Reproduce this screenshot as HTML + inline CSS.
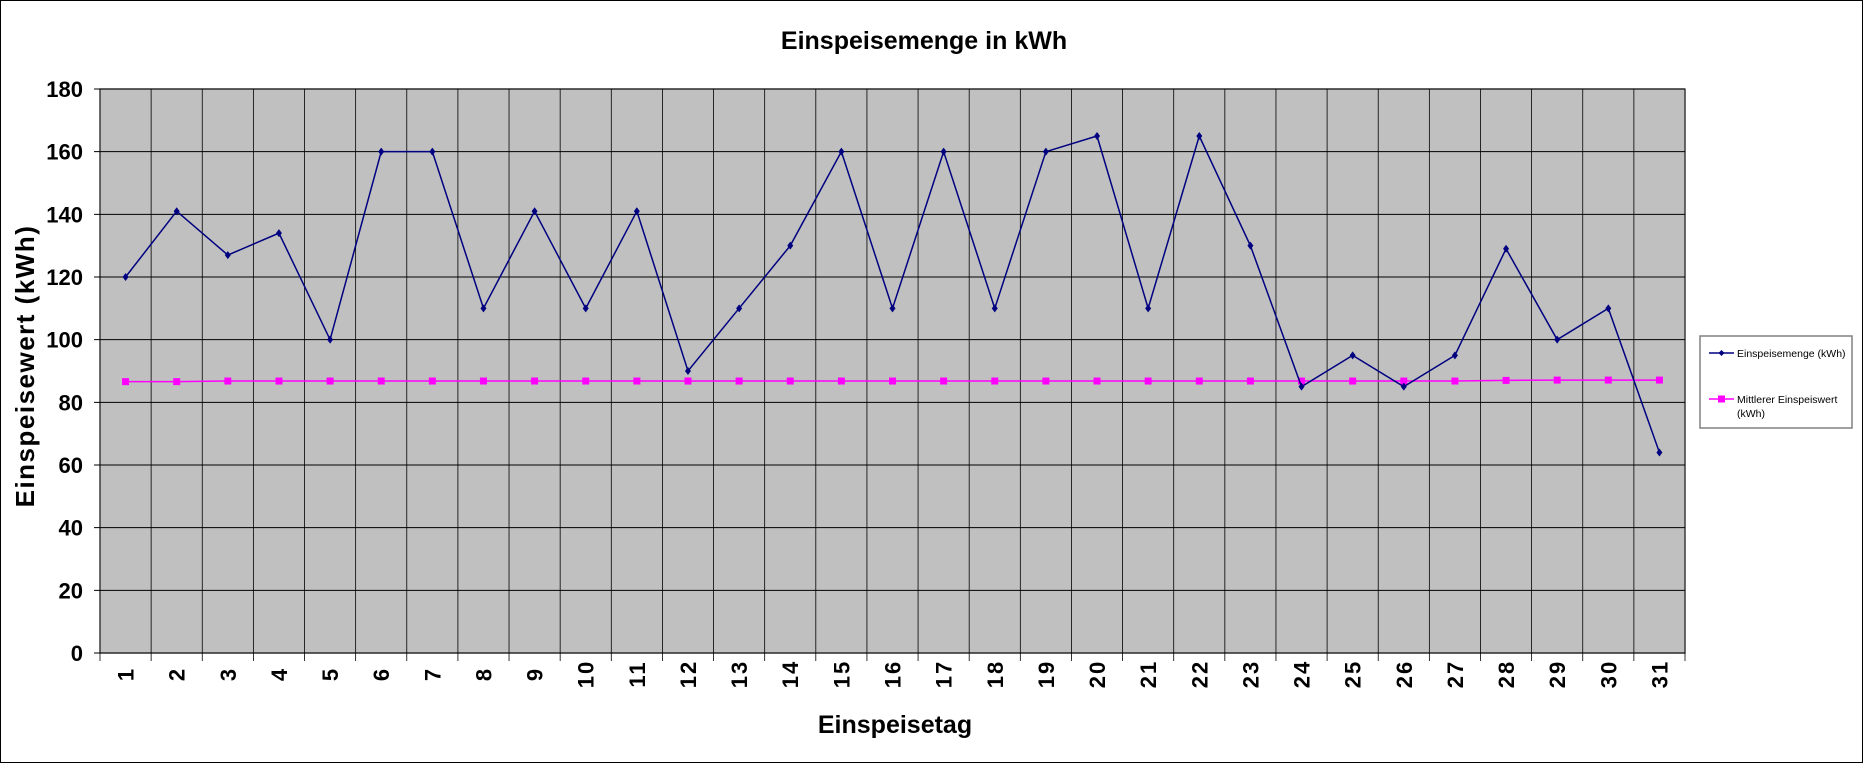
<!DOCTYPE html>
<html><head><meta charset="utf-8"><style>
body{margin:0;background:#fff;font-family:"Liberation Sans",Arial,sans-serif}
svg{display:block}
</style></head><body>
<svg id="chart" width="1863" height="763" xmlns="http://www.w3.org/2000/svg">
<rect x="0.5" y="0.5" width="1862" height="762" fill="#fff" stroke="#000"/>
<text x="924" y="49" text-anchor="middle" font-size="25" font-weight="bold">Einspeisemenge in kWh</text>
<g id="plot"></g>
<text transform="translate(34,366) rotate(-90)" text-anchor="middle" font-size="26" font-weight="bold" letter-spacing="1.5">Einspeisewert  (kWh)</text>
<text x="895" y="733" text-anchor="middle" font-size="25" font-weight="bold">Einspeisetag</text>
<g>
<rect x="1700" y="336" width="152" height="92" fill="#fff" stroke="#808080" stroke-width="1.5"/>
<g>
<line x1="1709" y1="353" x2="1734" y2="353" stroke="#000080" stroke-width="1.5"/>
<polygon points="1721.5,350 1724.5,353 1721.5,356 1718.5,353" fill="#000080"/>
<text x="1737" y="357" font-size="10.5">Einspeisemenge (kWh)</text></g>
<g>
<line x1="1709" y1="399" x2="1734" y2="399" stroke="#ff00ff" stroke-width="1.5"/>
<rect x="1718" y="395.5" width="7" height="7" fill="#ff00ff"/>
<text x="1737" y="403" font-size="10.5">Mittlerer Einspeiswert</text>
<text x="1737" y="417" font-size="10.5">(kWh)</text></g>
</g>
</svg>
<script>
const days=[1,2,3,4,5,6,7,8,9,10,11,12,13,14,15,16,17,18,19,20,21,22,23,24,25,26,27,28,29,30,31];
const einspeisemenge=[120,141,127,134,100,160,160,110,141,110,141,90,110,130,160,110,160,110,160,165,110,165,130,85,95,85,95,129,100,110,64];
const mittlerer=[86.6,86.6,86.8,86.8,86.8,86.8,86.8,86.8,86.8,86.8,86.8,86.8,86.8,86.8,86.8,86.8,86.8,86.8,86.8,86.8,86.8,86.8,86.8,86.8,86.8,86.8,86.8,87,87.1,87.1,87.1];
const yTicks=[0,20,40,60,80,100,120,140,160,180];
const L=100,R=1685,T=89,B=653,yMax=180;
const NS="http://www.w3.org/2000/svg";
const g=document.getElementById('plot');
const bw=(R-L)/days.length;
const xc=i=>L+(i+0.5)*bw;
const ys=v=>B-(v/yMax)*(B-T);
function mk(t,a,p){const e=document.createElementNS(NS,t);for(const k in a)e.setAttribute(k,a[k]);(p||g).appendChild(e);return e;}
const bg=mk('rect',{x:L,y:T,width:R-L,height:B-T,fill:'#c0c0c0',stroke:'#808080','stroke-width':1.5});


for(let i=0;i<=days.length;i++){const x=L+i*bw;
 const l=mk('line',{x1:x,y1:T,x2:x,y2:B+8,stroke:'#000','stroke-width':0.8});
 
 }
yTicks.forEach(v=>{const y=ys(v);
 const l=mk('line',{x1:L-6,y1:y,x2:R,y2:y,stroke:'#000','stroke-width':1});
 
 
 const t=mk('text',{x:L-17,y:y+8,'text-anchor':'end','font-size':22,'font-weight':'bold'});t.textContent=v;
 
 });
days.forEach((d,i)=>{const t=mk('text',{transform:`translate(${xc(i)+8},674) rotate(-90)`,'text-anchor':'middle','font-size':22,'font-weight':'bold','letter-spacing':2});t.textContent=d;
 
 });
const mp=mk('polyline',{points:mittlerer.map((v,i)=>xc(i)+','+ys(v)).join(' '),fill:'none',stroke:'#ff00ff','stroke-width':1.5});


mittlerer.forEach((v,i)=>{const r=mk('rect',{x:xc(i)-3.5,y:ys(v)-3.5,width:7,height:7,fill:'#ff00ff'});
 
 });
const ep=mk('polyline',{points:einspeisemenge.map((v,i)=>xc(i)+','+ys(v)).join(' '),fill:'none',stroke:'#000080','stroke-width':1.5});


einspeisemenge.forEach((v,i)=>{const x=xc(i),y=ys(v);
 const p=mk('polygon',{points:`${x},${y-4} ${x+3},${y} ${x},${y+4} ${x-3},${y}`,fill:'#000080'});
 
 });
</script>
</body></html>
